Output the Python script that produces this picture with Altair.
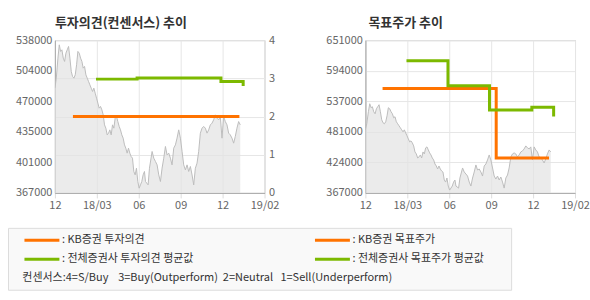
import altair as alt
import pandas as pd

FONT = "Noto Sans CJK KR"

# x axis: tick slots and their labels
x_labels = ["12", "18/03", "06", "09", "12", "19/02"]

# stock price; t is position in tick slots
price_t = [0.000, 0.033, 0.072, 0.104, 0.136, 0.167, 0.199, 0.231, 0.263, 0.294,
           0.326, 0.358, 0.390, 0.421, 0.453, 0.485, 0.517, 0.548, 0.580, 0.612,
           0.644, 0.675, 0.707, 0.739, 0.771, 0.802, 0.834, 0.866, 0.898, 0.929,
           0.961, 0.993, 1.025, 1.056, 1.088, 1.120, 1.152, 1.183, 1.215, 1.247,
           1.279, 1.310, 1.342, 1.374, 1.406, 1.437, 1.469, 1.501, 1.533, 1.564,
           1.596, 1.628, 1.660, 1.691, 1.723, 1.755, 1.787, 1.818, 1.850, 1.882,
           1.914, 1.945, 1.977, 2.009, 2.041, 2.072, 2.104, 2.136,
           2.160, 2.223, 2.255, 2.318, 2.358, 2.398, 2.437, 2.477, 2.517, 2.556,
           2.596, 2.636, 2.675, 2.715, 2.755, 2.794, 2.834, 2.874, 2.913, 2.953,
           2.993, 3.033, 3.072, 3.112, 3.152, 3.191, 3.231, 3.271, 3.310, 3.350,
           3.390, 3.429, 3.469, 3.509, 3.548, 3.588, 3.628, 3.667, 3.707, 3.747,
           3.786, 3.826, 3.866, 3.906, 3.945, 3.985, 4.025, 4.064, 4.104, 4.144,
           4.183, 4.223, 4.263, 4.302, 4.342, 4.382, 4.421]
price = [484300, 495500, 517900, 532800, 525400, 527200, 517900, 514200, 523500, 527200,
         531000, 517900, 503000, 497400, 495500, 499200, 510400, 525400, 523500, 517900,
         514200, 506700, 508600, 499200, 495500, 491800, 488000, 484300, 480600, 484300,
         478700, 473100, 467500, 461900, 463800, 460000, 454400, 443200, 439500, 432000,
         433900, 437600, 432000, 443200, 439500, 450700, 452600, 446900, 441400, 437600,
         432000, 428300, 420800, 417100, 411500, 417100, 411500, 407800, 405900, 391000,
         387200, 394700, 379800, 372300, 376000, 379800, 387200, 391000,
         379800, 376000, 394700, 413400, 405900, 402200, 398400, 387200, 379800, 394700,
         405900, 419000, 409600, 411500, 405900, 398400, 417100, 420800, 428300, 437600,
         428300, 413400, 398400, 392800, 398400, 391000, 396600, 387200, 376000, 394700,
         400300, 413400, 433900, 439500, 441400, 439500, 433900, 437600, 443200, 445100,
         448800, 454400, 450700, 448800, 452600, 428300, 452600, 446900, 443200, 433900,
         432000, 428300, 422700, 430200, 439500, 446900, 443200]

# investment opinion (right axis of left panel)
op_kb_t = [0.43, 4.40]
op_kb = [2.0, 2.0]
op_avg_t = [0.98, 1.96, 3.96, 4.49, 4.49]
op_avg = [2.98, 3.01, 2.92, 2.92, 2.80]

# target price (right panel)
tp_kb_t = [0.41, 3.12, 4.38]
tp_kb = [561000, 431800, 431800]
tp_avg_t = [0.98, 1.97, 2.96, 3.97, 4.49, 4.49]
tp_avg = [612700, 566400, 521400, 526100, 526100, 509000]

# legend entries (column-major order: left column first, then right column)
series_names = ["KB증권 투자의견", "전체증권사 투자의견 평균값",
                "KB증권 목표주가", "전체증권사 목표주가 평균값"]
series_colors = ["#ff7300", "#7cb900", "#ff7300", "#7cb900"]

left_ticks = [367000, 401200, 435400, 469600, 503800, 538000]
right_ticks = [367000, 423800, 480600, 537400, 594200, 651000]

NB = "\u00a0"
ZW = "\u200b"
consensus_note = (ZW + NB * 3 + "컨센서스:4=S/Buy" + NB * 4 + "3=Buy(Outperform)"
                  + NB * 2 + "2=Neutral" + NB * 3 + "1=Sell(Underperform)")

price_df = pd.DataFrame({"t": price_t, "price": price})


def mk(series, ts, vs):
    return pd.DataFrame({"series": series, "t": ts, "v": vs, "i": list(range(len(ts)))})


op_df = pd.concat([mk(series_names[0], op_kb_t, op_kb), mk(series_names[1], op_avg_t, op_avg)])
tp_df = pd.concat([mk(series_names[2], tp_kb_t, tp_kb), mk(series_names[3], tp_avg_t, tp_avg)])

label_expr = "[" + ",".join("'%s'" % s for s in x_labels) + "][datum.value]"

xscale = alt.Scale(domain=[0, 5], nice=False, zero=False)
xaxis = alt.Axis(values=list(range(6)), labelExpr=label_expr, grid=True, gridColor="#e6e6e6",
                 tickColor="#dddddd", tickSize=5, domainColor="#aaaaaa", labelColor="#666666",
                 labelFontSize=11, labelPadding=2, labelFlush=False, labelOverlap=False,
                 title=None)

trail = NB * 8 + ZW
legend = alt.Legend(orient="none", legendX=-47, legendY=188, columns=2, symbolType="stroke",
                    symbolSize=1225, symbolStrokeWidth=3, symbolOffset=8, clipHeight=11,
                    labelExpr="':" + NB + "' + datum.label + '" + trail + "'",
                    labelFontSize=11, labelColor="#333333", labelOffset=1, labelFont=FONT,
                    title=consensus_note, titleOrient="bottom", titleAnchor="start",
                    titleFontWeight="normal", titleFontSize=11, titleColor="#333333",
                    titleFont=FONT, titlePadding=7, fillColor="#f9f9f9", strokeColor="#dcdcdc",
                    padding=7, rowPadding=7, columnPadding=92, titleLimit=600, labelLimit=400)

color = alt.Color("series:N", scale=alt.Scale(domain=series_names, range=series_colors),
                  legend=legend)


def price_axis(ticks, **extra):
    return alt.Axis(values=ticks, labelExpr="format(round(datum.value/1000)*1000,'d')",
                    ticks=False, labelPadding=3, domainColor="#aaaaaa", labelColor="#666666",
                    labelFontSize=11, title=None, labelOverlap=False, **extra)


left_axis = price_axis(left_ticks, grid=False, minExtent=49, maxExtent=49)
right_axis = price_axis(right_ticks, grid=True, gridColor="#e6e6e6", minExtent=50, maxExtent=50)


def area(domain, axis):
    return alt.Chart(price_df).mark_area(
        color="#e2e2e2", line={"color": "#bdbdbd", "strokeWidth": 1}, clip=True
    ).encode(
        x=alt.X("t:Q", scale=xscale, axis=xaxis),
        y=alt.Y("price:Q", scale=alt.Scale(domain=domain, nice=False, zero=False), axis=axis),
    )


left_area = area([367000, 538000], left_axis)
op_lines = alt.Chart(op_df).mark_line(interpolate="step-after", strokeWidth=3).encode(
    x=alt.X("t:Q", scale=xscale, axis=xaxis),
    y=alt.Y("v:Q", scale=alt.Scale(domain=[0, 4], nice=False, zero=False),
            axis=alt.Axis(orient="right", values=[0, 1, 2, 3, 4], grid=True, gridColor="#e6e6e6",
                          domain=False, ticks=False, labelPadding=4, labelColor="#666666",
                          labelFontSize=11, title=None, minExtent=25, maxExtent=25,
                          labelOverlap=False)),
    color=color,
    detail="series:N",
    order="i:Q",
)
left = alt.layer(left_area, op_lines).resolve_scale(y="independent").properties(
    width=210, height=153,
    title=alt.TitleParams("투자의견(컨센서스) 추이", anchor="start", frame="group", fontSize=13,
                          fontWeight="bold", color="#333333", font=FONT, offset=4))

right_area = area([367000, 651000], right_axis)
tp_lines = alt.Chart(tp_df).mark_line(interpolate="step-after", strokeWidth=3).encode(
    x=alt.X("t:Q", scale=xscale, axis=xaxis),
    y=alt.Y("v:Q", scale=alt.Scale(domain=[367000, 651000], nice=False, zero=False),
            axis=right_axis),
    color=color,
    detail="series:N",
    order="i:Q",
)
right = alt.layer(right_area, tp_lines).properties(
    width=210, height=153,
    title=alt.TitleParams("목표주가 추이", anchor="start", frame="group", fontSize=13,
                          fontWeight="bold", color="#333333", font=FONT, offset=4, dx=3))

chart = alt.hconcat(left, right, spacing=24).properties(
    padding={"left": 5, "top": 16, "right": 0, "bottom": 0},
    background="white",
).configure(font=FONT).configure_view(stroke="#c0c0c0").configure_axis(labelFont=FONT)

chart.save("out.html", embed_options={"renderer": "svg", "actions": False})
